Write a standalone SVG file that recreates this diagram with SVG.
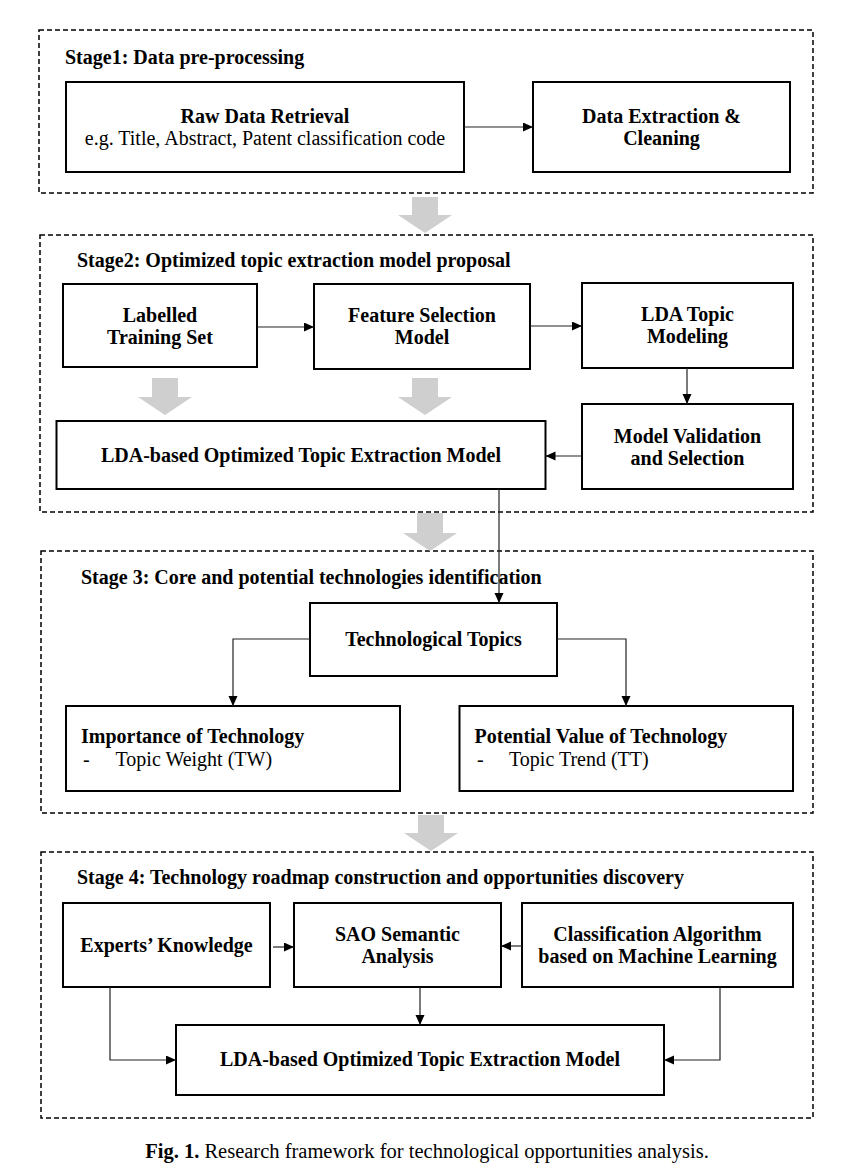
<svg xmlns="http://www.w3.org/2000/svg" width="862" height="1176" viewBox="0 0 862 1176">
<defs>
<style>
.stage{fill:none;stroke:#000;stroke-width:1.5;stroke-dasharray:5 3}
.box{fill:#fff;stroke:#000;stroke-width:2}
.t{font-family:"Liberation Serif","Times New Roman",serif;font-size:20px;fill:#000}
.b{font-weight:bold}
.c{text-anchor:middle}
.con{fill:none;stroke:#222;stroke-width:1.2;marker-end:url(#ah)}
.big{fill:#cfcfcf}
</style>
<marker id="ah" markerUnits="userSpaceOnUse" markerWidth="11" markerHeight="10" refX="10" refY="4.5" orient="auto">
<path d="M0,0 L10,4.5 L0,9 z" fill="#000"/>
</marker>
</defs>
<rect width="862" height="1176" fill="#fff"/>

<g id="stage1">
<rect class="stage" x="39" y="30" width="774" height="163"/>
<text class="t b" x="65" y="64">Stage1: Data pre-processing</text>
</g>
<g id="raw">
<rect class="box" x="66" y="82" width="398" height="90"/>
<text class="t b c" x="265" y="123">Raw Data Retrieval</text>
<text class="t c" x="265" y="145">e.g. Title, Abstract, Patent classification code</text>
</g>
<g id="extract">
<rect class="box" x="533" y="82" width="257" height="90"/>
<text class="t b c" x="661.5" y="123">Data Extraction &amp;</text>
<text class="t b c" x="661.5" y="145">Cleaning</text>
</g>

<g id="stage2">
<rect class="stage" x="40" y="235" width="773" height="277"/>
<text class="t b" x="77" y="267">Stage2: Optimized topic extraction model proposal</text>
</g>
<g id="labelled">
<rect class="box" x="63" y="284" width="194" height="83"/>
<text class="t b c" x="160" y="322">Labelled</text>
<text class="t b c" x="160" y="344">Training Set</text>
</g>
<g id="feature">
<rect class="box" x="314" y="284" width="216" height="85"/>
<text class="t b c" x="422" y="322">Feature Selection</text>
<text class="t b c" x="422" y="344">Model</text>
</g>
<g id="lda">
<rect class="box" x="582" y="283" width="211" height="85"/>
<text class="t b c" x="687.5" y="321">LDA Topic</text>
<text class="t b c" x="687.5" y="343">Modeling</text>
</g>
<g id="validation">
<rect class="box" x="582" y="404" width="211" height="85"/>
<text class="t b c" x="687.5" y="443">Model Validation</text>
<text class="t b c" x="687.5" y="465">and Selection</text>
</g>
<g id="ldamodel">
<rect class="box" x="56.5" y="421" width="489" height="68"/>
<text class="t b c" x="301" y="462">LDA-based Optimized Topic Extraction Model</text>
</g>

<g id="stage3">
<rect class="stage" x="41" y="551" width="772" height="262"/>
<text class="t b" x="81" y="584">Stage 3: Core and potential technologies identification</text>
</g>
<g id="topics">
<rect class="box" x="310" y="603" width="247" height="73"/>
<text class="t b c" x="433.5" y="646">Technological Topics</text>
</g>
<g id="importance">
<rect class="box" x="66" y="706" width="334" height="85"/>
<text class="t b" x="81" y="743">Importance of Technology</text>
<text class="t" x="83" y="766">-</text>
<text class="t" x="115.5" y="766">Topic Weight (TW)</text>
</g>
<g id="potential">
<rect class="box" x="459.5" y="706" width="333.5" height="85"/>
<text class="t b" x="474.5" y="743">Potential Value of Technology</text>
<text class="t" x="477" y="766">-</text>
<text class="t" x="509" y="766">Topic Trend (TT)</text>
</g>

<g id="stage4">
<rect class="stage" x="41" y="852" width="772" height="266"/>
<text class="t b" x="77" y="884">Stage 4: Technology roadmap construction and opportunities discovery</text>
</g>
<g id="experts">
<rect class="box" x="63" y="903" width="207" height="84"/>
<text class="t b c" x="166.5" y="952">Experts’ Knowledge</text>
</g>
<g id="sao">
<rect class="box" x="294" y="903" width="207" height="84"/>
<text class="t b c" x="397.5" y="941">SAO Semantic</text>
<text class="t b c" x="397.5" y="963">Analysis</text>
</g>
<g id="classification">
<rect class="box" x="522" y="903" width="271" height="84"/>
<text class="t b c" x="657.5" y="941">Classification Algorithm</text>
<text class="t b c" x="657.5" y="963">based on Machine Learning</text>
</g>
<g id="ldamodel2">
<rect class="box" x="176" y="1025" width="488" height="70"/>
<text class="t b c" x="420" y="1066">LDA-based Optimized Topic Extraction Model</text>
</g>

<g id="flow-arrows">
<path class="big" d="M412,197 H438 V215 H452 L425,233 L398,215 H412 Z"/>
<path class="big" d="M152,378 H178 V397 H192 L165,415 L138,397 H152 Z"/>
<path class="big" d="M412,378 H438 V397 H452 L425,415 L398,397 H412 Z"/>
<path class="big" d="M417,513 H443 V533 H457 L430,551 L403,533 H417 Z"/>
<path class="big" d="M418,815 H444 V833 H458 L431,851 L404,833 H418 Z"/>
</g>

<g id="connectors">
<path class="con" d="M464,127 H533"/>
<path class="con" d="M257,327 H314"/>
<path class="con" d="M530,326 H582"/>
<path class="con" d="M687,368 V404"/>
<path class="con" d="M582,456 H545.5"/>
<path class="con" d="M499,489 V603"/>
<path class="con" d="M310,639 H233 V706"/>
<path class="con" d="M557,639 H626 V706"/>
<path class="con" d="M273,947 H294"/>
<path class="con" d="M522,946 H501"/>
<path class="con" d="M420,987 V1025"/>
<path class="con" d="M110,987 V1060 H176"/>
<path class="con" d="M720,987 V1060 H664"/>
</g>

<text class="t c" x="427" y="1158" style="font-size:20.5px"><tspan class="b">Fig. 1.</tspan> Research framework for technological opportunities analysis.</text>
</svg>
